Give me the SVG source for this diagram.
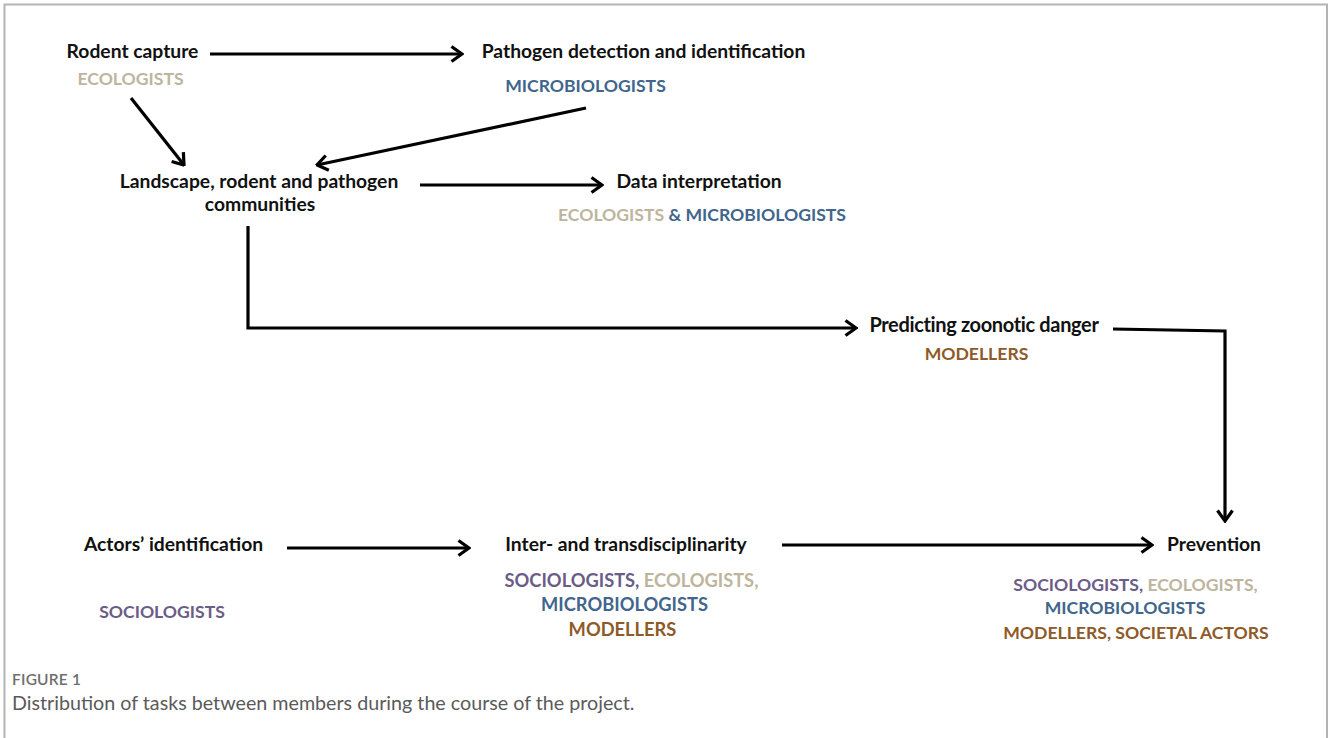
<svg xmlns="http://www.w3.org/2000/svg" width="1330" height="738" viewBox="0 0 1330 738">
<style>
.t{font-family:Lato,"Liberation Sans",sans-serif;font-weight:bold;font-size:19.3px;fill:#111;text-anchor:middle}
.r{font-family:Lato,"Liberation Sans",sans-serif;font-weight:bold;font-size:17.6px;text-anchor:middle}
.m{font-size:18.3px}
.eco{fill:#bdb59e}.mic{fill:#41658c}.soc{fill:#6b5d87}.mod{fill:#8e5a27}
.c{fill:none;stroke:#000;stroke-width:3.2}
.cap1{font-family:Lato,"Liberation Sans",sans-serif;font-size:15.5px;font-weight:600;letter-spacing:0.2px;fill:#6e6e6e}
.cap2{font-family:Lato,"Liberation Sans",sans-serif;font-size:19.7px;fill:#5a5a5a}
</style>
<defs>
<marker id="ah" viewBox="0 0 14 18" refX="12.5" refY="9" markerWidth="14" markerHeight="18" markerUnits="userSpaceOnUse" orient="auto">
<path d="M2,1.5 L12.5,9 L2,16.5" fill="none" stroke="#000" stroke-width="3.2" stroke-linejoin="miter"/>
</marker>
</defs>
<rect width="1330" height="738" fill="#fff"/>
<rect x="4.5" y="4.5" width="1322.5" height="800" fill="none" stroke="#b4b4b4" stroke-width="2"/>

<g id="connectors">
<line class="c" x1="210" y1="54" x2="462" y2="54" marker-end="url(#ah)"/>
<line class="c" x1="131" y1="98" x2="184" y2="165" marker-end="url(#ah)"/>
<line class="c" x1="586" y1="108" x2="317" y2="165" marker-end="url(#ah)"/>
<line class="c" x1="420" y1="185" x2="602" y2="185" marker-end="url(#ah)"/>
<polyline class="c" points="248,226 248,328 856,328" marker-end="url(#ah)"/>
<polyline class="c" points="1113,329 1225,331 1225,521" marker-end="url(#ah)"/>
<line class="c" x1="287" y1="548" x2="469" y2="548" marker-end="url(#ah)"/>
<line class="c" x1="782" y1="545" x2="1152" y2="545" marker-end="url(#ah)"/>
</g>

<g id="rodent-capture">
<text class="t" x="132.5" y="58">Rodent capture</text>
<text class="r eco" x="130.5" y="85">ECOLOGISTS</text>
</g>
<g id="pathogen-detection">
<text class="t" x="643.5" y="58">Pathogen detection and identification</text>
<text class="r mic" x="585.5" y="92">MICROBIOLOGISTS</text>
</g>
<g id="landscape">
<text class="t" x="259" y="188">Landscape, rodent and pathogen</text>
<text class="t" x="260" y="211">communities</text>
</g>
<g id="data-interpretation">
<text class="t" x="699" y="188">Data interpretation</text>
<text class="r" x="702" y="221"><tspan class="eco">ECOLOGISTS</tspan><tspan class="mic"> &amp; MICROBIOLOGISTS</tspan></text>
</g>
<g id="predicting">
<text class="t" x="984" y="332" style="font-size:20px;letter-spacing:-0.35px">Predicting zoonotic danger</text>
<text class="r mod" x="976.5" y="360">MODELLERS</text>
</g>
<g id="actors">
<text class="t" x="173.5" y="551">Actors’ identification</text>
<text class="r soc" x="162" y="618">SOCIOLOGISTS</text>
</g>
<g id="inter">
<text class="t" x="626" y="551">Inter- and transdisciplinarity</text>
<text class="r m" x="631.5" y="587"><tspan class="soc">SOCIOLOGISTS,</tspan><tspan class="eco"> ECOLOGISTS,</tspan></text>
<text class="r m mic" x="624.5" y="611">MICROBIOLOGISTS</text>
<text class="r m mod" x="622.5" y="636">MODELLERS</text>
</g>
<g id="prevention">
<text class="t" x="1214" y="551">Prevention</text>
<text class="r" x="1135.5" y="591"><tspan class="soc">SOCIOLOGISTS,</tspan><tspan class="eco"> ECOLOGISTS,</tspan></text>
<text class="r mic" x="1125" y="614">MICROBIOLOGISTS</text>
<text class="r mod" x="1136" y="639">MODELLERS, SOCIETAL ACTORS</text>
</g>
<g id="caption">
<text class="cap1" x="12" y="685">FIGURE 1</text>
<text class="cap2" x="12" y="710">Distribution of tasks between members during the course of the project.</text>
</g>
</svg>
